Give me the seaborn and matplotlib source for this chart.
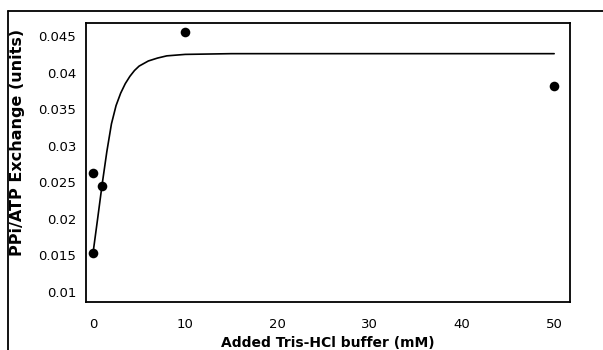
import matplotlib
matplotlib.use("Agg")
from matplotlib import pyplot as plt
from matplotlib.lines import Line2D
import seaborn as sns
import pandas as pd

# measured points
buffer_mm = [0, 0, 1, 10, 50]
exchange = [0.0153, 0.0263, 0.0245, 0.0455, 0.0382]

# fitted curve
curve_x = [0, 0.5, 1, 1.5, 2, 2.5, 3, 3.5, 4, 4.5, 5, 6, 7, 8, 10, 15, 20, 50]
curve_y = [0.0153, 0.0200, 0.0248, 0.0292, 0.0330, 0.0355, 0.0372, 0.0385,
           0.0395, 0.0403, 0.0409, 0.0416, 0.0420, 0.0423, 0.0425, 0.0426,
           0.0426, 0.0426]

x_ticks = [0, 10, 20, 30, 40, 50]
y_ticks = [0.01, 0.015, 0.02, 0.025, 0.03, 0.035, 0.04, 0.045]
y_labels = ["0.01", "0.015", "0.02", "0.025", "0.03", "0.035", "0.04", "0.045"]

sns.set_style("white")
plt.rcParams["font.family"] = ["DejaVu Sans"]

df_pts = pd.DataFrame({"x": buffer_mm, "y": exchange})
df_fit = pd.DataFrame({"x": curve_x, "y": curve_y})

fig = plt.figure(figsize=(6.03, 3.5), dpi=100)
ax = fig.add_axes([0.1426, 0.137, 0.8024, 0.797])

sns.lineplot(data=df_fit, x="x", y="y", ax=ax, color="black", linewidth=1.2,
             sort=False, estimator=None)
sns.scatterplot(data=df_pts, x="x", y="y", ax=ax, color="black", s=48,
                edgecolor="black", linewidth=0, zorder=3)

ax.set_xlim(-0.76, 51.7)
ax.set_ylim(0.00863, 0.04678)
ax.set_xticks(x_ticks)
ax.set_xticklabels([str(v) for v in x_ticks])
ax.set_yticks(y_ticks)
ax.set_yticklabels(y_labels)
ax.tick_params(axis="both", direction="out", length=6.5, width=1.2,
               color="black", labelsize=9.5, labelcolor="black")
ax.tick_params(axis="x", pad=5)
ax.tick_params(axis="y", pad=0.5)

for sp in ax.spines.values():
    sp.set_color("black")
    sp.set_linewidth(1.3)

ax.set_xlabel("Added Tris-HCl buffer (mM)", fontsize=10, fontweight="bold",
              color="black")
ax.set_ylabel("PPi/ATP Exchange (units)", fontsize=11.5, fontweight="bold",
              color="black")
ax.xaxis.set_label_coords(0.5, -0.123)
ax.yaxis.set_label_coords(-0.127, 0.573)

# outer frame (top and left only)
fig.add_artist(Line2D([8 / 603, 1.0], [1 - 11 / 350, 1 - 11 / 350],
                      transform=fig.transFigure, color="black", linewidth=1.3))
fig.add_artist(Line2D([8 / 603, 8 / 603], [0.0, 1 - 11 / 350],
                      transform=fig.transFigure, color="black", linewidth=1.3))

plt.savefig("out.png", dpi=100)
plt.close()
